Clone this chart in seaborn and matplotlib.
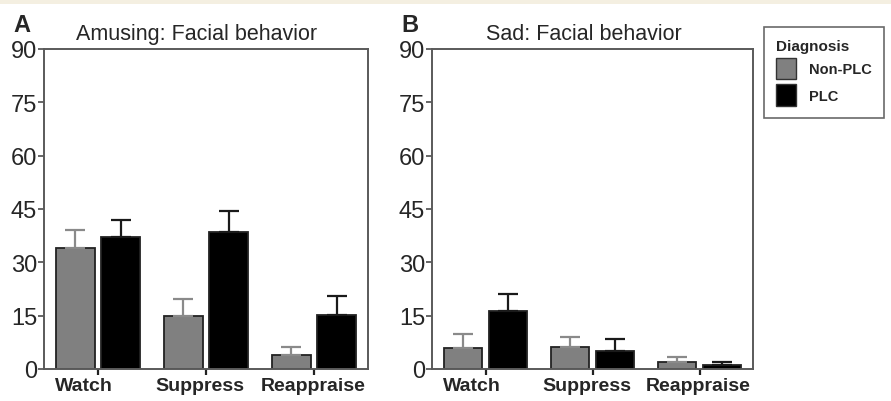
import pandas as pd
import numpy as np
import matplotlib
matplotlib.use("Agg")
import matplotlib.pyplot as plt
from matplotlib.patches import Patch, Rectangle
from matplotlib.transforms import ScaledTranslation
import seaborn as sns

conditions = ["Watch", "Suppress", "Reappraise"]
groups = ["Non-PLC", "PLC"]

# Amusing film, mean and upper error (SEM)
amusing_non = [33.9, 14.8, 3.9]
amusing_non_err = [5.3, 4.8, 2.2]
amusing_plc = [37.0, 38.6, 15.1]
amusing_plc_err = [4.8, 5.7, 5.3]

# Sad film
sad_non = [5.9, 6.3, 1.9]
sad_non_err = [4.0, 2.8, 1.5]
sad_plc = [16.2, 5.2, 1.0]
sad_plc_err = [5.0, 3.2, 0.9]

yticks = [0, 15, 30, 45, 60, 75, 90]

sns.set_theme(style="ticks")
plt.rcParams["font.family"] = ["Liberation Sans", "DejaVu Sans"]

bar_colors = {"Non-PLC": "#808080", "PLC": "#000000"}
err_colors = {"Non-PLC": "#8a8a8a", "PLC": "#1a1a1a"}
spine_col = "#5a5a5a"
# category labels in the original sit a little left of their ticks (pixels)
label_shift = [-14, -6, -1]

fig = plt.figure(figsize=(8.91, 4.02), dpi=100)
fig.patch.set_facecolor("white")
# beige strip on top
fig.patches.append(Rectangle((0, 1 - 5 / 402), 1, 5 / 402, transform=fig.transFigure,
                             facecolor="#f4efe1", edgecolor="none", zorder=0))

ax_a = fig.add_axes([44 / 891, 32 / 402, 324 / 891, 320 / 402])
ax_b = fig.add_axes([432 / 891, 32 / 402, 321 / 891, 320 / 402])


def draw(ax, non, non_err, plc, plc_err, title, letter):
    df = pd.DataFrame({
        "condition": conditions * 2,
        "group": ["Non-PLC"] * 3 + ["PLC"] * 3,
        "value": non + plc,
        "err": non_err + plc_err,
    })
    sns.barplot(data=df, x="condition", y="value", hue="group", order=conditions,
                hue_order=groups, palette=bar_colors, width=0.84, gap=0.14,
                edgecolor="#222222", linewidth=1.3, errorbar=None, legend=False,
                saturation=1, ax=ax)
    # upper-only error bars on top of each bar
    for cont, g in zip(ax.containers, groups):
        sub = df[df["group"] == g].set_index("condition").loc[conditions]
        xs = [p.get_x() + p.get_width() / 2 for p in cont]
        ys = [p.get_height() for p in cont]
        ax.errorbar(xs, ys, yerr=[np.zeros(len(xs)), sub["err"].values],
                    fmt="none", ecolor=err_colors[g], elinewidth=1.6,
                    capsize=7.5, capthick=1.6, zorder=1)
    ax.set_xlim(-0.5, 2.5)
    ax.set_ylim(0, 90)
    ax.set_yticks(yticks)
    ax.set_xlabel("")
    ax.set_ylabel("")
    for s in ax.spines.values():
        s.set_color(spine_col)
        s.set_linewidth(1.4)
        s.set_visible(True)
    ax.tick_params(axis="y", labelsize=17, length=4, width=1.3, color=spine_col, pad=1)
    ax.tick_params(axis="x", labelsize=14, length=4, width=1.6, color="#222222", pad=2)
    for lab, dx in zip(ax.get_xticklabels(), label_shift):
        lab.set_fontweight("bold")
        lab.set_transform(lab.get_transform() + ScaledTranslation(dx / 100, 0, fig.dpi_scale_trans))
    t = ax.set_title(title, fontsize=15.5, pad=7)
    t.set_transform(t.get_transform() + ScaledTranslation(-9 / 100, 0, fig.dpi_scale_trans))
    ax.text(-0.095, 1.04, letter, transform=ax.transAxes, fontsize=17,
            fontweight="bold", va="bottom", ha="left")


draw(ax_a, amusing_non, amusing_non_err, amusing_plc, amusing_plc_err,
     "Amusing: Facial behavior", "A")
draw(ax_b, sad_non, sad_non_err, sad_plc, sad_plc_err,
     "Sad: Facial behavior", "B")

handles = [Patch(facecolor=bar_colors[g], edgecolor="#333333", linewidth=1) for g in groups]
leg = fig.legend(handles, groups, title="Diagnosis", loc="upper left",
                 bbox_to_anchor=(764 / 891, 1 - 28 / 402), frameon=True,
                 fancybox=False, prop={"weight": "bold", "size": 10.5},
                 title_fontproperties={"weight": "bold", "size": 11},
                 handlelength=1.4, handleheight=1.9, handletextpad=0.9,
                 labelspacing=0.35, borderpad=0.8, borderaxespad=0)
leg._legend_box.align = "left"
leg.get_frame().set_edgecolor("#444444")
leg.get_frame().set_linewidth(1.2)

fig.savefig("out.png", dpi=100)
